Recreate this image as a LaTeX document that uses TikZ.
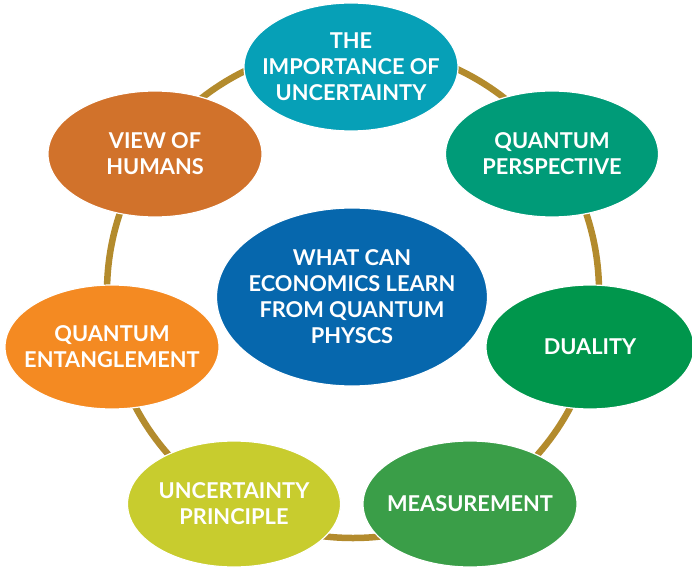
\documentclass[tikz,border=0pt]{standalone}
\usepackage{fontspec}
\setmainfont{Lato}
\usetikzlibrary{shapes.geometric}
\definecolor{ringc}{RGB}{179,139,45}
\definecolor{cTop}{RGB}{6,160,183}
\definecolor{cPersp}{RGB}{0,155,120}
\definecolor{cDual}{RGB}{0,150,76}
\definecolor{cMeas}{RGB}{58,158,72}
\definecolor{cUnc}{RGB}{200,204,46}
\definecolor{cEnt}{RGB}{244,138,34}
\definecolor{cView}{RGB}{209,114,43}
\definecolor{cCenter}{RGB}{6,103,173}
\tikzset{
  bubble/.style={ellipse, draw=white, line width=1.2pt, inner sep=-40pt,
    text=white, align=center, font=\fontsize{21.8}{26}\selectfont\bfseries},
  ring/.style={draw=ringc, line width=6.5pt}
}
\begin{document}
\begin{tikzpicture}[x=1pt,y=-1pt]
\useasboundingbox (0,0) rectangle (692,569);
\coordinate (rc) at (353,292);
\draw[ring] (rc) circle (246);
\node[bubble, fill=cTop, minimum width=214pt, minimum height=128pt] (top) at (351,67) {THE\\IMPORTANCE OF\\UNCERTAINTY};
\node[bubble, fill=cPersp, minimum width=213pt, minimum height=126pt] (persp) at (552,154) {QUANTUM\\PERSPECTIVE};
\node[bubble, fill=cDual, minimum width=208pt, minimum height=124pt] (dual) at (590,347) {DUALITY};
\node[bubble, fill=cMeas, minimum width=214pt, minimum height=126pt] (meas) at (470,504) {MEASUREMENT};
\node[bubble, fill=cUnc, minimum width=213pt, minimum height=126pt] (unc) at (234,504) {UNCERTAINTY\\PRINCIPLE};
\node[bubble, fill=cEnt, minimum width=214pt, minimum height=124pt] (ent) at (112,347) {QUANTUM\\ENTANGLEMENT};
\node[bubble, fill=cView, minimum width=214pt, minimum height=126pt] (view) at (155,154) {VIEW OF\\HUMANS};
\node[bubble, fill=cCenter, minimum width=271pt, minimum height=178pt] (center) at (352,297) {WHAT CAN\\ECONOMICS LEARN\\FROM QUANTUM\\PHYSCS};
\end{tikzpicture}
\end{document}
